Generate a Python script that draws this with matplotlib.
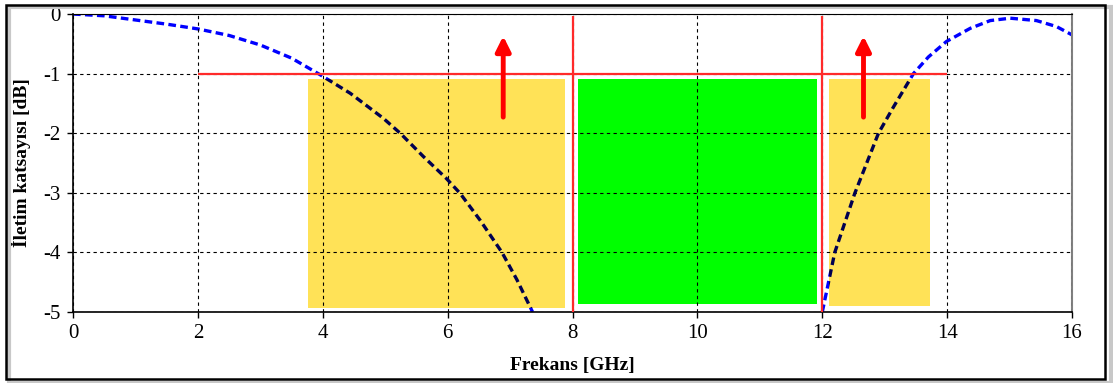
import numpy as np
import matplotlib
matplotlib.use('Agg')
import matplotlib.pyplot as plt
from matplotlib.patches import Rectangle

plt.rcParams['font.family'] = ['Liberation Serif', 'DejaVu Serif']
plt.rcParams['axes.unicode_minus'] = False

# transmission curve, left branch (GHz, dB)
freq_l = [0, 0.5, 1, 1.5, 2, 2.5, 3, 3.5, 3.96, 4.44, 4.97, 5.24, 5.61, 5.98,
          6.2, 6.52, 6.87, 7.11, 7.36]
gain_l = [0, -0.03, -0.1, -0.17, -0.25, -0.36, -0.52, -0.74, -1.02, -1.33, -1.75,
          -2.0, -2.39, -2.76, -3.01, -3.46, -4.0, -4.46, -5.0]
# right branch
freq_r = [12.0, 12.2, 12.52, 12.9, 13.14, 13.46, 13.7, 13.99, 14.37, 14.69,
          15.01, 15.43, 15.75, 16.0]
gain_r = [-5.0, -4.0, -3.01, -2.0, -1.56, -1.0, -0.72, -0.46, -0.24, -0.11,
          -0.07, -0.11, -0.21, -0.35]

# bands: (start, end, bottom, top)
yellow_bands = [(3.77, 7.88, -4.93, -1.09), (12.1, 13.73, -4.9, -1.09)]
green_band = (8.09, 11.92, -4.87, -1.09)

limit_db = -1
limit_span = (2, 14)
edge_freqs = [8, 12]
arrow_x = [6.89, 12.66]
arrow_y = (-1.73, -0.37)

fig = plt.figure(figsize=(11.13, 3.83), dpi=100)
ax = fig.add_axes([0.0656, 0.1854, 0.8976, 0.778])

yellow_patches = []
for x0, x1, y0, y1 in yellow_bands:
    p = Rectangle((x0, y0), x1 - x0, y1 - y0, color='#FFE257', lw=0, zorder=1)
    ax.add_patch(p)
    yellow_patches.append(p)
x0, x1, y0, y1 = green_band
ax.add_patch(Rectangle((x0, y0), x1 - x0, y1 - y0, color='#00FF00', lw=0, zorder=1))

ax.grid(True, color='black', ls=(0, (3, 3)), lw=0.8, zorder=2)
ax.set_axisbelow(False)

ax.hlines(limit_db, *limit_span, color='#ff2a2a', lw=1.6, zorder=3)
ax.vlines(edge_freqs, -5, -0.03, color='#ff2a2a', lw=1.6, zorder=3)

# blue curve sits under the yellow bands, a navy copy is shown inside them
dash = (2.3, 1.3)
for (fx, gy), band in zip([(freq_l, gain_l), (freq_r, gain_r)], yellow_patches):
    ax.plot(fx, gy, color='#0000ff', lw=2.4, dashes=dash, zorder=0.5)
    dark, = ax.plot(fx, gy, color='#000050', lw=2.4, dashes=dash, zorder=5)
    dark.set_clip_path(band)

for x_arr in arrow_x:
    ax.annotate('', xy=(x_arr, arrow_y[1]), xytext=(x_arr, arrow_y[0]),
                arrowprops=dict(arrowstyle='-|>', color='red', lw=3.5,
                                mutation_scale=22, shrinkA=0, shrinkB=0,
                                capstyle='round'), zorder=6)

ax.set_xlim(0, 16)
ax.set_ylim(-5, 0)
ax.set_xticks(range(0, 17, 2))
ax.set_yticks(range(-5, 1))
ax.set_yticklabels([str(v) for v in range(-5, 1)])
ax.tick_params(labelsize=15, direction='out', length=4, width=1, pad=5)
ax.spines['right'].set_color('gray')
ax.spines['right'].set_linewidth(1.5)
ax.spines['left'].set_linewidth(1.2)
ax.spines['bottom'].set_linewidth(1.2)
ax.set_xlabel('Frekans [GHz]', fontsize=14, fontweight='bold', labelpad=10)
ax.set_ylabel('İletim katsayısı [dB]', fontsize=14, fontweight='bold', labelpad=9)

# outer frame with shadow
fig.patches.append(Rectangle((0.008, 0.0), 0.99, 0.982, transform=fig.transFigure,
                             fill=False, ec='#c8c8c8', lw=3))
fig.patches.append(Rectangle((0.005, 0.01), 0.988, 0.976, transform=fig.transFigure,
                             fill=False, ec='black', lw=1.8))

fig.savefig('out.png', dpi=100)
